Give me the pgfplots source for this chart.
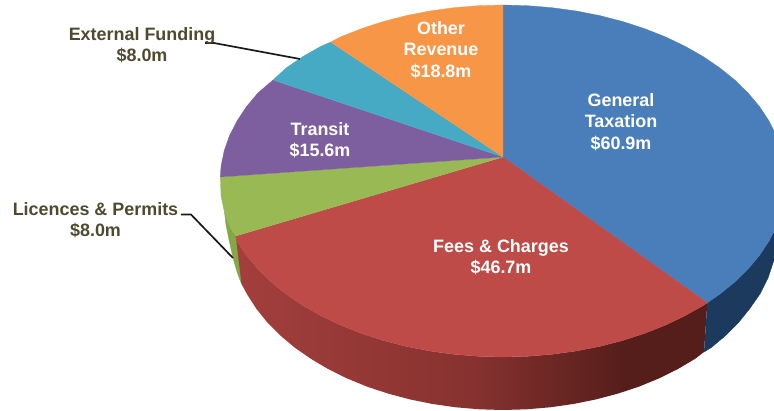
\documentclass[border=0pt]{standalone}
\usepackage{fontspec}
\setmainfont{Liberation Sans}
\usepackage{pgfplots}
\pgfplotsset{compat=1.18}
\definecolor{cblue}{HTML}{4A7EBB}
\definecolor{cred}{HTML}{BE4B48}
\definecolor{cgreen}{HTML}{98B954}
\definecolor{cpurple}{HTML}{7D5FA0}
\definecolor{cteal}{HTML}{46AAC5}
\definecolor{corange}{HTML}{F79646}
\definecolor{csideblue}{HTML}{1C3A5E}
\definecolor{csidegreen}{HTML}{84A846}
\definecolor{ctext}{HTML}{4F4A2F}
\definecolor{rsa}{HTML}{A33F3C}
\definecolor{rsb}{HTML}{873230}
\definecolor{rsc}{HTML}{561E1A}
\pgfdeclarehorizontalshading{redside}{100bp}{color(0bp)=(rsa); color(25bp)=(rsa); color(50bp)=(rsb); color(66bp)=(rsc); color(100bp)=(rsc)}
\tikzset{lab/.style={font=\fontsize{18}{21.4}\selectfont\bfseries, align=center, inner sep=0pt}}
\begin{document}
\begin{tikzpicture}
\path[use as bounding box] (0,0) rectangle (774bp,411bp);
\begin{axis}[
  at={(0,0)}, anchor=south west,
  scale only axis, width=774bp, height=411bp,
  xmin=0, xmax=774, ymin=0, ymax=411, y dir=reverse,
  hide axis, clip=true,
  every axis plot/.append style={no markers},
]
% side walls
\addplot[draw=csidegreen, line width=0.3pt, fill=csidegreen] coordinates {
 (235.7,236) (229.6,226.5) (224.5,212) (226,225) (229,240) (233,258) (237,272) (241.5,284) (243,284) };
\addplot[draw=none, shade, shading=redside] coordinates {
 (235.7,236) (237.1,241.2) (246.5,255.4) (257.9,269) (271.2,282) (286.2,294.1) (302.9,305.5) (321.1,315.8)
 (340.7,325.2) (361.5,333.4) (383.4,340.5) (406.2,346.4) (429.8,351) (453.9,354.3) (478.3,356.3) (503,357)
 (527.7,356.3) (552.1,354.3) (576.2,351) (599.8,346.4) (622.6,340.5) (644.5,333.4) (665.3,325.2) (684.9,315.8)
 (703.1,305.5) (707.3,302.8)
 (704,352) (695.3,358.7) (677.8,369.1) (659,378.4) (639,386.6) (617.9,393.6) (596,399.4) (573.4,404)
 (550.2,407.3) (526.7,409.3) (503,410) (479.3,409.3) (455.8,407.3) (432.6,404) (410,399.4) (388.1,393.6)
 (367,386.6) (347,378.4) (328.2,369.1) (310.7,358.7) (294.6,347.5) (280.2,335.4) (267.4,322.5) (256.5,309)
 (247.4,294.9) (241.5,284) };
\addplot[draw=csideblue, line width=0.3pt, fill=csideblue] coordinates {
 (707.3,302.8) (719.8,294.1) (734.8,282) (748.1,269) (759.5,255.4) (768.9,241.2) (776.4,226.5)
 (780,226.5) (780,255) (774,260) (768,278) (760,294) (749.5,309) (738.6,322.5) (725.8,335.4) (711.4,347.5) (704,352) };
% top surface
\addplot[draw=cblue, line width=0.3pt, fill=cblue] coordinates {
 (503,157) (503,5) (527.7,5.7) (552.1,7.7) (576.2,11) (599.8,15.6) (622.6,21.5) (644.5,28.6) (665.3,36.8)
 (684.9,46.2) (703.1,56.5) (719.8,67.9) (734.8,80) (748.1,93) (759.5,106.6) (768.9,120.8) (776.4,135.5)
 (781.7,150.4) (784.9,165.7) (786,181) (784.9,196.3) (781.7,211.6) (776.4,226.5) (768.9,241.2) (759.5,255.4)
 (748.1,269) (734.8,282) (719.8,294.1) (707.3,302.8) };
\addplot[draw=cred, line width=0.3pt, fill=cred] coordinates {
 (503,157) (707.3,302.8) (703.1,305.5) (684.9,315.8) (665.3,325.2) (644.5,333.4) (622.6,340.5) (599.8,346.4)
 (576.2,351) (552.1,354.3) (527.7,356.3) (503,357) (478.3,356.3) (453.9,354.3) (429.8,351) (406.2,346.4)
 (383.4,340.5) (361.5,333.4) (340.7,325.2) (321.1,315.8) (302.9,305.5) (286.2,294.1) (271.2,282) (257.9,269)
 (246.5,255.4) (237.1,241.2) (235.7,236) };
\addplot[draw=cgreen, line width=0.3pt, fill=cgreen] coordinates {
 (503,157) (235.7,236) (229.6,226.5) (224.3,211.6) (221.1,196.3) (220.3,177) };
\addplot[draw=cpurple, line width=0.3pt, fill=cpurple] coordinates {
 (503,157) (220.3,177) (221.1,165.7) (224.3,150.4) (229.6,135.5) (237.1,120.8) (246.5,106.6) (257.9,93) (273,80) };
\addplot[draw=cteal, line width=0.3pt, fill=cteal] coordinates {
 (503,157) (273,80) (286.2,67.9) (302.9,56.5) (321.1,46.2) (330.7,42) };
\addplot[draw=corange, line width=0.3pt, fill=corange] coordinates {
 (503,157) (330.7,42) (340.7,36.8) (361.5,28.6) (383.4,21.5) (406.2,15.6) (429.8,11) (453.9,7.7) (478.3,5.7) (503,5) };
% leader lines
\addplot[draw=black!90, line width=1.7pt] coordinates {(205,43) (214,43) (300,59)};
\addplot[draw=black!90, line width=1.7pt] coordinates {(181,214.5) (191,214.5) (233,258)};
% labels
\node[lab, white] at (axis cs:621,122) {General\\Taxation\\\$60.9m};
\node[lab, white] at (axis cs:501,257) {Fees \& Charges\\\$46.7m};
\node[lab, white] at (axis cs:320,140) {Transit\\\$15.6m};
\node[lab, white] at (axis cs:441,50) {Other\\Revenue\\\$18.8m};
\node[lab, ctext] at (axis cs:142,45) {External Funding\\\$8.0m};
\node[lab, ctext] at (axis cs:95.5,220) {Licences \& Permits\\\$8.0m};
\end{axis}
\end{tikzpicture}
\end{document}
